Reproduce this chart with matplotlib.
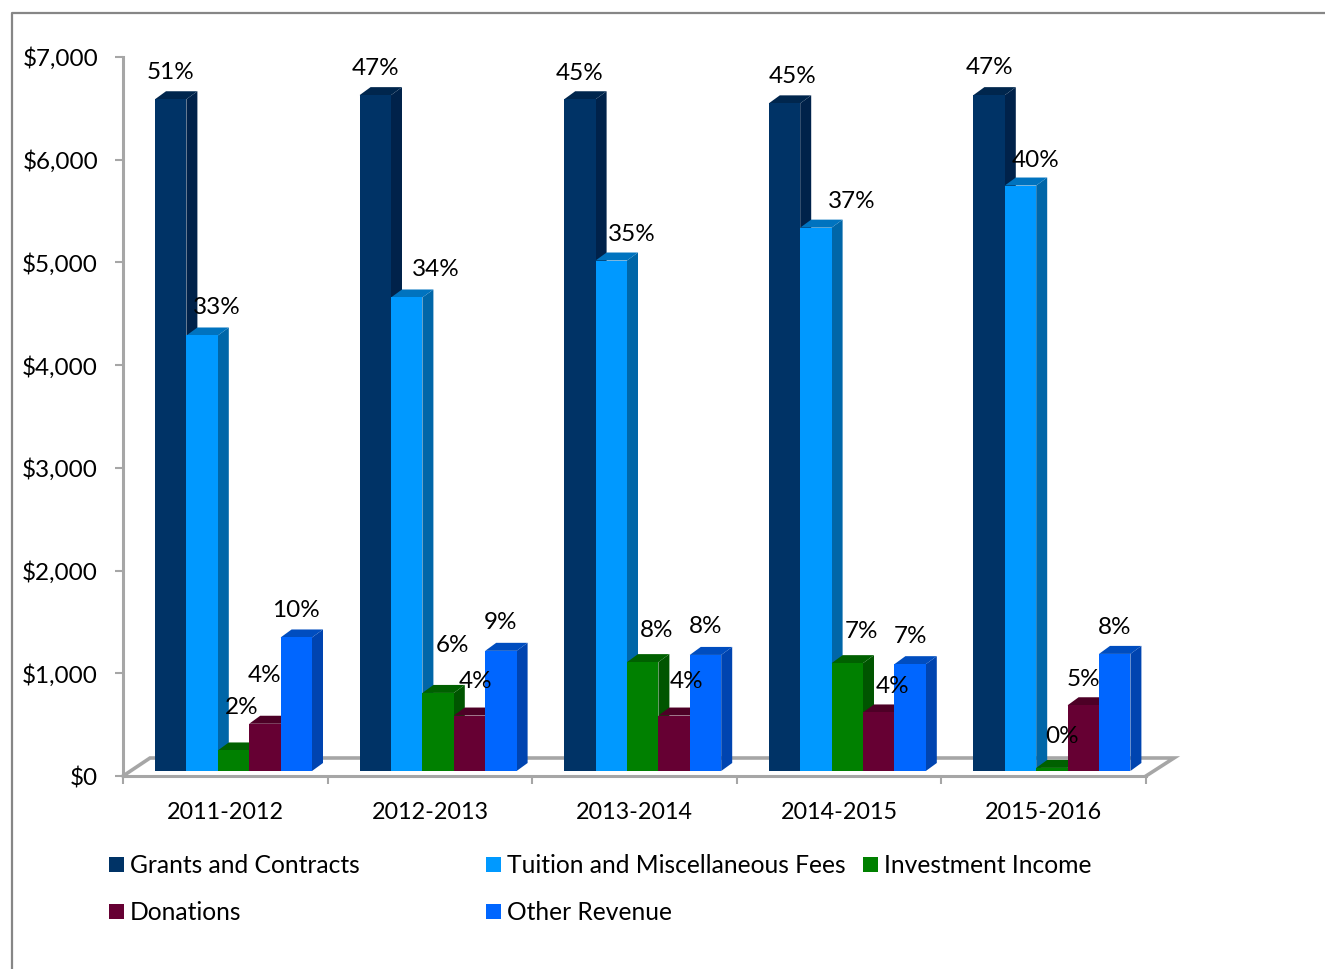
import matplotlib
matplotlib.use("Agg")
import matplotlib.pyplot as plt
from matplotlib.lines import Line2D
from matplotlib.patches import Rectangle

plt.rcParams['font.family'] = ['Lato', 'DejaVu Sans']

years = ['2011-2012', '2012-2013', '2013-2014', '2014-2015', '2015-2016']
series = ['Grants and Contracts', 'Tuition and Miscellaneous Fees', 'Investment Income',
          'Donations', 'Other Revenue']

grants = [6540, 6580, 6540, 6500, 6580]
tuition = [4240, 4610, 4970, 5290, 5700]
investment = [200, 760, 1060, 1050, 30]
donations = [460, 540, 540, 570, 640]
other = [1300, 1170, 1130, 1040, 1140]
values = [grants, tuition, investment, donations, other]

grants_pct = ['51%', '47%', '45%', '45%', '47%']
tuition_pct = ['33%', '34%', '35%', '37%', '40%']
investment_pct = ['2%', '6%', '8%', '7%', '0%']
donations_pct = ['4%', '4%', '4%', '4%', '5%']
other_pct = ['10%', '9%', '8%', '7%', '8%']
percents = [grants_pct, tuition_pct, investment_pct, donations_pct, other_pct]

# front, side, top
colors = [('#003366', '#00224a', '#00264d'),
          ('#0099ff', '#0066a8', '#0073bf'),
          ('#008000', '#005500', '#006000'),
          ('#660033', '#440022', '#4d0026'),
          ('#0066ff', '#0044b0', '#004dbf')]

# label offsets from the bar top, pixels (the original labels were dragged by hand)
nudges = [[(0, 27), (0, 27), (0, 26), (8, 27), (0, 28)],
          [(15, 28), (29, 28), (21, 26), (36, 26), (15, 25)],
          [(8, 43), (14, 47), (14, 32), (14, 32), (10, 31)],
          [(0, 48), (6, 34), (12, 34), (14, 26), (0, 26)],
          [(0, 27), (0, 28), (0, 28), (0, 28), (0, 26)]]

W, H = 1325, 969
gray = '#a6a6a6'

fig = plt.figure(figsize=(W / 100, H / 100), dpi=100)
ax = fig.add_axes([123 / W, 1 - 776 / H, 1023 / W, 719 / H])
ax.set_xlim(0, 5)
ax.set_ylim(0, 7000)

px_x = 5 / 1023
px_y = 7000 / 719
bar_w = 31.4 * px_x
start = 32 * px_x
base = 5 * px_y
dx = 11 * px_x
dy = 8 * px_y

# floor of the 3d box
floor_x = [0, 27 * px_x, 5 + 28 * px_x, 5]
floor_y = [0, 18 * px_y, 18 * px_y, 0]
ax.plot(floor_x, floor_y, color=gray, lw=2.6, clip_on=False, zorder=1, solid_joinstyle='miter')

for i, vals in enumerate(values):
    front, side, top = colors[i]
    for g, v in enumerate(vals):
        x0 = g + start + i * bar_w
        x1 = x0 + bar_w
        y1 = base + v
        z = 2 + g * 10 + i
        ax.fill([x1, x1 + dx, x1 + dx, x1], [base, base + dy, y1 + dy, y1], color=side, lw=0, zorder=z)
        ax.fill([x0, x0 + dx, x1 + dx, x1], [y1, y1 + dy, y1 + dy, y1], color=top, lw=0, zorder=z)
        ax.bar(x0, v, bar_w, bottom=base, align='edge', color=front, lw=0, zorder=z + 0.5)
        nx, ny = nudges[i][g]
        ax.annotate(percents[i][g], (x0 + bar_w / 2, y1), xytext=(nx, ny), textcoords='offset pixels',
                    ha='center', va='center', fontsize=17.5, color='black', zorder=200,
                    annotation_clip=False)

for s in ['top', 'right']:
    ax.spines[s].set_visible(False)
for s in ['left', 'bottom']:
    ax.spines[s].set_color(gray)
    ax.spines[s].set_linewidth(2.2)

ax.set_yticks(range(0, 8000, 1000))
ax.set_yticklabels([f'${v:,}' for v in range(0, 8000, 1000)])
ax.set_xticks(range(6))
ax.set_xticklabels([])
ax.set_xticks([g + 0.5 for g in range(5)], minor=True)
ax.set_xticklabels(years, minor=True)
ax.tick_params(axis='x', which='major', length=6, width=1.5, color=gray)
ax.tick_params(axis='x', which='minor', length=0, pad=18.5, labelsize=16.8)
ax.tick_params(axis='y', length=6, width=1.5, color=gray, pad=12, labelsize=17.5)

# legend, laid out by hand on the original's two rows
legend_slots = [(109, 864), (486, 864), (863, 864), (109, 911), (486, 911)]
for name, (c, _, _), (lx, ly) in zip(series, colors, legend_slots):
    fig.add_artist(Rectangle((lx / W, 1 - (ly + 7.5) / H), 15 / W, 15 / H, transform=fig.transFigure,
                             facecolor=c, lw=0))
    fig.text((lx + 21) / W, 1 - (ly + 1.5) / H, name, fontsize=17.7, va='center', ha='left', color='black')

# frame of the cropped chart area
fig.add_artist(Line2D([11.5 / W, 11.5 / W, 1], [0, 1 - 12.5 / H, 1 - 12.5 / H],
                      color='#868686', lw=1.6, transform=fig.transFigure))

fig.savefig('out.png', dpi=100)
